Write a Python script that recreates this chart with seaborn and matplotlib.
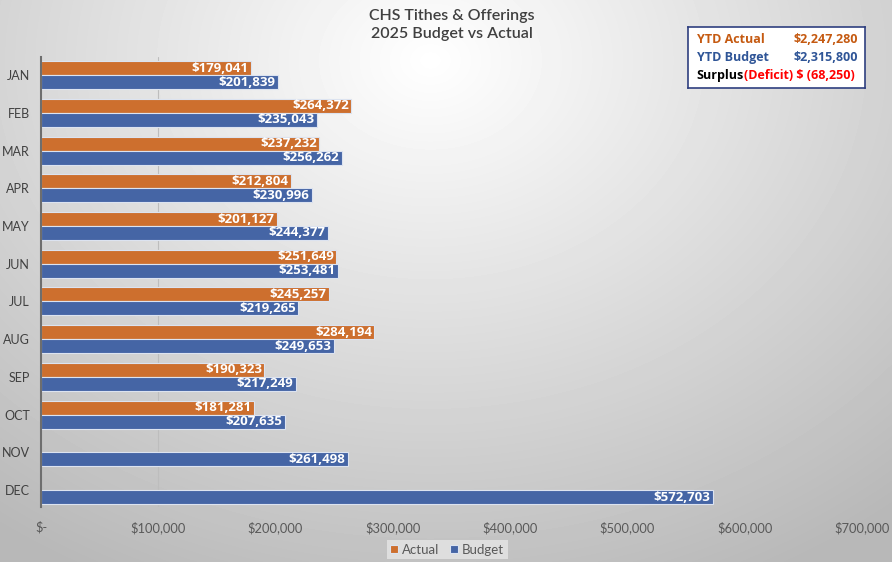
import numpy as np
import pandas as pd
import matplotlib
matplotlib.use('Agg')
import matplotlib.pyplot as plt
import seaborn as sns

months = ['JAN', 'FEB', 'MAR', 'APR', 'MAY', 'JUN', 'JUL', 'AUG', 'SEP', 'OCT', 'NOV', 'DEC']
actual = [179041, 264372, 237232, 212804, 201127, 251649, 245257, 284194, 190323, 181281, np.nan, np.nan]
budget = [201839, 235043, 256262, 230996, 244377, 253481, 219265, 249653, 217249, 207635, 261498, 572703]
series = ['Actual', 'Budget']
x_ticks = [0, 100000, 200000, 300000, 400000, 500000, 600000, 700000]

ytd_rows = [('YTD Actual', '$2,247,280'), ('YTD Budget', '$2,315,800')]
surplus_text = ('Surplus', '(Deficit) $ (68,250)')

ORANGE = '#CD6F2E'
BLUE = '#4565A5'
BOLD_FONT = ['Open Sans', 'DejaVu Sans']

sns.set_theme(style='white')
plt.rcParams['font.family'] = ['Lato', 'DejaVu Sans']

df = pd.DataFrame({'month': months * 2,
                   'value': actual + budget,
                   'series': [series[0]] * len(months) + [series[1]] * len(months)})
df = df.dropna()

fig = plt.figure(figsize=(8.92, 5.62), dpi=100)

# gradient background over the whole figure
bg = fig.add_axes([0, 0, 1, 1], zorder=-10)
yy, xx = np.mgrid[0:562, 0:892]
d = np.sqrt(((xx - 430) / 700.0) ** 2 + ((yy - 60) / 560.0) ** 2)
shade = np.clip(1.0 - 0.27 * d, 0.72, 1.0)
bg.imshow(shade, cmap='gray', vmin=0, vmax=1, aspect='auto', extent=[0, 1, 0, 1])
bg.axis('off')

ax = fig.add_axes([41 / 892, 1 - 507 / 562, (862 - 41) / 892, (507 - 57) / 562])
ax.patch.set_alpha(0)

sns.barplot(data=df, y='month', x='value', hue='series', order=months, hue_order=series,
            orient='h', palette=[ORANGE, BLUE], width=0.74, saturation=1,
            edgecolor='#DCE3F0', linewidth=0.8, ax=ax, legend=True)

for cont in ax.containers:
    for bar in cont:
        w = bar.get_width()
        if np.isnan(w) or w == 0:
            continue
        ax.text(w - 2000, bar.get_y() + bar.get_height() / 2, f'${w:,.0f}',
                ha='right', va='center', color='white', fontsize=9.5, fontweight='bold',
                family=BOLD_FONT)

ax.set_xlim(0, 700000)
ax.set_ylim(11.45, -0.48)
ax.set_xticks(x_ticks)
ax.set_xticklabels(['$-' if t == 0 else f'${t:,.0f}' for t in x_ticks])
ax.axvline(100000, color='#BDBDBD', lw=0.8, zorder=0)
ax.tick_params(axis='x', length=0, pad=10, labelsize=9.3, labelcolor='#595959')
ax.tick_params(axis='y', length=0, pad=8, labelsize=9, labelcolor='#404040')
ax.set_xlabel('')
ax.set_ylabel('')
for s in ['top', 'right', 'bottom']:
    ax.spines[s].set_visible(False)
ax.spines['left'].set_color('#6E6E6E')
ax.spines['left'].set_linewidth(1.5)

leg = ax.legend(loc='center', bbox_to_anchor=(0.495, -0.095), ncol=2, fontsize=9.5,
                frameon=True, handlelength=0.6, handleheight=0.6, handletextpad=0.3,
                columnspacing=0.8, borderpad=0.25, fancybox=False)
leg.get_frame().set_facecolor('#E6E6E6')
leg.get_frame().set_edgecolor('none')
for t in leg.get_texts():
    t.set_color('#595959')

fig.text(452 / 892, 1 - 16 / 562, 'CHS Tithes & Offerings', ha='center', va='center',
         fontsize=11.5, color='#404040', fontweight='semibold')
fig.text(452 / 892, 1 - 34 / 562, '2025 Budget vs Actual', ha='center', va='center',
         fontsize=11.5, color='#404040', fontweight='semibold')

# summary box
box = fig.add_axes([688 / 892, 1 - 88 / 562, (865 - 688) / 892, (88 - 27) / 562], zorder=5)
box.set_xticks([])
box.set_yticks([])
box.set_facecolor('white')
for s in box.spines.values():
    s.set_color('#2F3F7F')
    s.set_linewidth(1.2)
box.set_xlim(0, 1)
box.set_ylim(0, 1)
row_y = [0.8, 0.5]
row_colors = ['#C55A11', '#2F5597']
for (lab, val), yv, c in zip(ytd_rows, row_y, row_colors):
    box.text(0.05, yv, lab, color=c, fontsize=9, fontweight='bold', va='center', ha='left',
             family=BOLD_FONT)
    box.text(0.96, yv, val, color=c, fontsize=9, fontweight='bold', va='center', ha='right',
             family=BOLD_FONT)
t1 = box.text(0.05, 0.2, surplus_text[0], color='black', fontsize=9, fontweight='bold',
              va='center', ha='left', family=BOLD_FONT)
fig.canvas.draw()
bb = t1.get_window_extent().transformed(box.transAxes.inverted())
box.text(bb.x1, 0.2, surplus_text[1], color='#FF0000', fontsize=9, fontweight='bold',
         va='center', ha='left', family=BOLD_FONT)

fig.savefig('out.png', dpi=100)
